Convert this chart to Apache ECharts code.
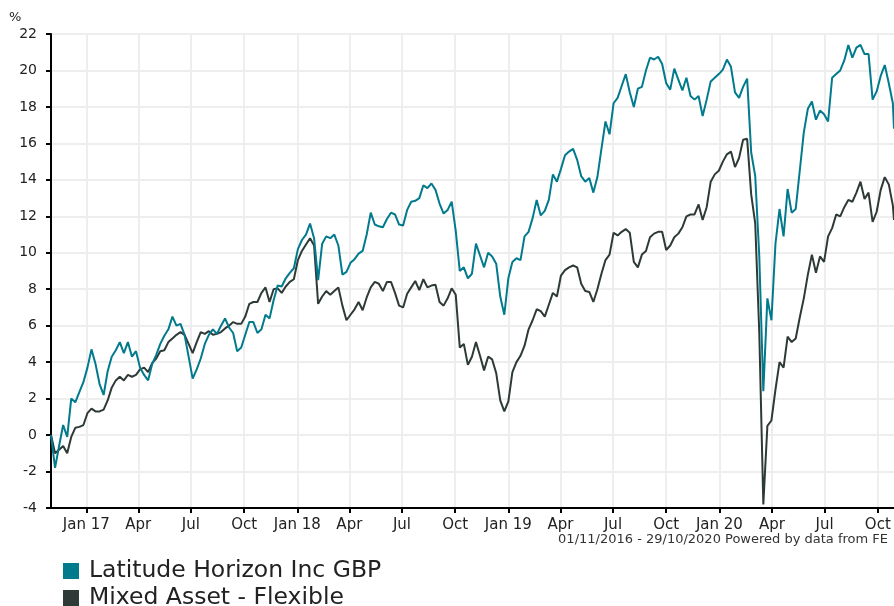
<!DOCTYPE html>
<html>
<head>
<meta charset="utf-8">
<script src="https://cdn.jsdelivr.net/npm/echarts@6/dist/echarts.min.js"></script>
<style>
  html, body { margin: 0; padding: 0; background: #fff; }
  #chart { width: 894px; height: 606px; }
</style>
</head>
<body>
<div id="chart"></div>
<script>
// weekly points from 01/11/2016, last point 29/10/2020
const startDate = '2016-11-01';
const endDate = '2020-10-29';
const weeks = 209;

const fundName = 'Latitude Horizon Inc GBP';
const sectorName = 'Mixed Asset - Flexible';

const fundValues = [
  0, -1.8, -0.6, 0.55, -0.1, 2.0, 1.8, 2.35, 2.9, 3.7,
  4.7, 3.9, 2.8, 2.2, 3.5, 4.3, 4.65, 5.1, 4.5, 5.1,
  4.3, 4.6, 3.7, 3.3, 3.0, 3.9, 4.4, 5.0, 5.45, 5.8,
  6.5, 6.0, 6.1, 5.5, 4.3, 3.1, 3.6, 4.2, 5.0, 5.5,
  5.8, 5.55, 6.0, 6.4, 5.9, 5.6, 4.6, 4.8, 5.5, 6.2,
  6.2, 5.6, 5.8, 6.6, 6.4, 7.4, 8.2, 8.15, 8.6, 8.9,
  9.15, 10.2, 10.7, 11.0, 11.6, 10.8, 8.5, 10.5, 10.9, 10.8,
  11.0, 10.4, 8.8, 8.95, 9.45, 9.65, 9.95, 10.1, 11.0, 12.2,
  11.55, 11.45, 11.4, 11.85, 12.2, 12.1, 11.55, 11.5, 12.35, 12.8,
  12.85, 13.0, 13.7, 13.55, 13.8, 13.45, 12.7, 12.15, 12.35, 12.8,
  11.2, 9.0, 9.2, 8.6, 8.85, 10.5, 9.85, 9.2, 10.0, 9.8,
  9.4, 7.6, 6.6, 8.6, 9.5, 9.7, 9.6, 10.9, 11.15, 11.9,
  12.9, 12.05, 12.3, 12.9, 14.3, 13.9, 14.6, 15.35, 15.55, 15.7,
  15.1, 14.2, 13.9, 14.1, 13.3, 14.15, 15.7, 17.2, 16.5, 18.2,
  18.5, 19.15, 19.8, 18.8, 18.0, 19.0, 19.1, 20.0, 20.7, 20.6,
  20.75, 20.35, 19.3, 18.95, 20.1, 19.5, 18.9, 19.6, 18.6, 18.4,
  18.6, 17.5, 18.4, 19.4, 19.6, 19.8, 20.05, 20.6, 20.2, 18.8,
  18.5, 19.1, 19.55, 15.5, 14.2, 9.8, 2.4, 7.5, 6.3, 10.5,
  12.4, 10.9, 13.5, 12.2, 12.4, 14.5, 16.6, 17.9, 18.3, 17.3,
  17.8, 17.6, 17.2, 19.6, 19.8, 20.0, 20.55, 21.4, 20.7, 21.25,
  21.4, 20.9, 20.9, 18.4, 18.85, 19.7, 20.3, 19.3, 18.2,
  16.8
];

const sectorValues = [
  0, -1.0, -0.8, -0.6, -1.0, -0.1, 0.4, 0.45, 0.55, 1.2,
  1.45, 1.3, 1.3, 1.4, 1.9, 2.6, 3.0, 3.2, 3.0, 3.3,
  3.2, 3.3, 3.6, 3.7, 3.45, 3.95, 4.2, 4.6, 4.65, 5.1,
  5.3, 5.5, 5.65, 5.5, 5.0, 4.5, 5.1, 5.65, 5.55, 5.7,
  5.5, 5.55, 5.65, 5.85, 6.0, 6.2, 6.1, 6.1, 6.5, 7.2,
  7.3, 7.3, 7.8, 8.1, 7.3, 8.0, 8.05, 7.8, 8.15, 8.4,
  8.55, 9.6, 10.1, 10.45, 10.8, 10.4, 7.2, 7.6, 7.9, 7.7,
  7.9, 8.1, 7.1, 6.3, 6.6, 6.9, 7.3, 6.85, 7.55, 8.1,
  8.4, 8.3, 7.9, 8.4, 8.4, 7.8, 7.1, 7.0, 7.75, 8.1,
  8.45, 7.95, 8.55, 8.1, 8.2, 8.25, 7.3, 7.1, 7.5, 8.05,
  7.7, 4.8, 5.0, 3.85, 4.3, 5.1, 4.35, 3.55, 4.3, 4.15,
  3.4, 1.9, 1.3, 1.85, 3.45, 4.0, 4.35, 4.9, 5.8, 6.3,
  6.9, 6.8, 6.5, 7.15, 7.8, 7.6, 8.75, 9.05, 9.2, 9.3,
  9.2, 8.3, 7.9, 7.85, 7.3, 8.0, 8.85, 9.6, 9.9, 11.1,
  10.95, 11.15, 11.3, 11.1, 9.5, 9.2, 9.9, 10.1, 10.85, 11.05,
  11.15, 11.15, 10.15, 10.4, 10.85, 11.05, 11.4, 12.0, 12.1, 12.1,
  12.65, 11.8, 12.5, 13.9, 14.3, 14.5, 15.0, 15.4, 15.55, 14.7,
  15.2, 16.2, 16.25, 13.2, 11.6, 5.6, -3.8, 0.5, 0.8, 2.5,
  4.0, 3.7, 5.4, 5.1, 5.3, 6.45, 7.5, 8.8, 9.9, 8.9,
  9.8, 9.5, 10.9, 11.35, 12.1, 12.0, 12.5, 12.9, 12.8, 13.3,
  13.9, 12.95, 13.3, 11.7, 12.25, 13.45, 14.15, 13.75, 12.6,
  11.8
];

const tickDates = [
  '2017-01-01', '2017-04-01', '2017-07-01', '2017-10-01',
  '2018-01-01', '2018-04-01', '2018-07-01', '2018-10-01',
  '2019-01-01', '2019-04-01', '2019-07-01', '2019-10-01',
  '2020-01-01', '2020-04-01', '2020-07-01', '2020-10-01'
];
const monthNames = ['Jan', 'Feb', 'Mar', 'Apr', 'May', 'Jun', 'Jul', 'Aug', 'Sep', 'Oct', 'Nov', 'Dec'];
const footText = '01/11/2016 - 29/10/2020 Powered by data from FE';

const DAY = 86400000;
const t0 = Date.parse(startDate);
const tEnd = Date.parse(endDate);
const dates = [];
for (let i = 0; i < weeks; i++) dates.push(t0 + i * 7 * DAY);
dates.push(tEnd);

const tickValues = tickDates.map(d => Date.parse(d));
const fundData = dates.map((d, i) => [d, fundValues[i]]);
const sectorData = dates.map((d, i) => [d, sectorValues[i]]);

const font = 'DejaVu Sans, Verdana, sans-serif';

const chart = echarts.init(document.getElementById('chart'));
const option = {
  animation: false,
  backgroundColor: '#fff',
  textStyle: { fontFamily: font },
  grid: { left: 51, right: 0, top: 34, bottom: 98, containLabel: false },
  legend: {
    orient: 'vertical',
    left: 58,
    top: 554,
    height: 120,
    icon: 'rect',
    itemWidth: 16,
    itemHeight: 16,
    itemGap: 3,
    textStyle: { fontSize: 23.5, color: '#222', fontFamily: font, padding: [0, 0, 0, 5] },
    data: [fundName, sectorName]
  },
  graphic: [
    { type: 'text', left: 9, top: 11, style: { text: '%', fontSize: 13, fill: '#222', fontFamily: font } },
    { type: 'text', right: 6, top: 533, style: { text: footText, fontSize: 13, fill: '#333', fontFamily: font } }
  ],
  xAxis: {
    type: 'value',
    min: t0,
    max: tEnd,
    axisLine: { show: true, onZero: false, lineStyle: { color: '#000', width: 2 } },
    axisTick: { show: true, length: 5, lineStyle: { color: '#000', width: 2 }, customValues: tickValues },
    axisLabel: {
      fontSize: 15,
      color: '#222',
      margin: 10,
      customValues: tickValues,
      formatter: function (v) {
        const d = new Date(v);
        const m = d.getUTCMonth();
        if (m === 0) return 'Jan ' + String(d.getUTCFullYear()).slice(2);
        return monthNames[m];
      }
    },
    splitLine: { show: true, lineStyle: { color: '#eeeeee', width: 2 } }
  },
  yAxis: {
    type: 'value',
    min: -4,
    max: 22,
    interval: 2,
    axisLine: { show: true, onZero: false, lineStyle: { color: '#000', width: 2 } },
    axisTick: { show: true, length: 5, lineStyle: { color: '#000', width: 2 } },
    axisLabel: { fontSize: 14, color: '#222', margin: 14 },
    splitLine: { show: true, lineStyle: { color: '#eeeeee', width: 2 } }
  },
  series: [
    {
      name: fundName,
      type: 'line',
      data: fundData,
      showSymbol: false,
      color: '#007a8c',
      lineStyle: { width: 2 },
      z: 3
    },
    {
      name: sectorName,
      type: 'line',
      data: sectorData,
      showSymbol: false,
      color: '#2e3a37',
      lineStyle: { width: 2 },
      z: 2
    }
  ]
};
chart.setOption(option);
</script>
</body>
</html>
